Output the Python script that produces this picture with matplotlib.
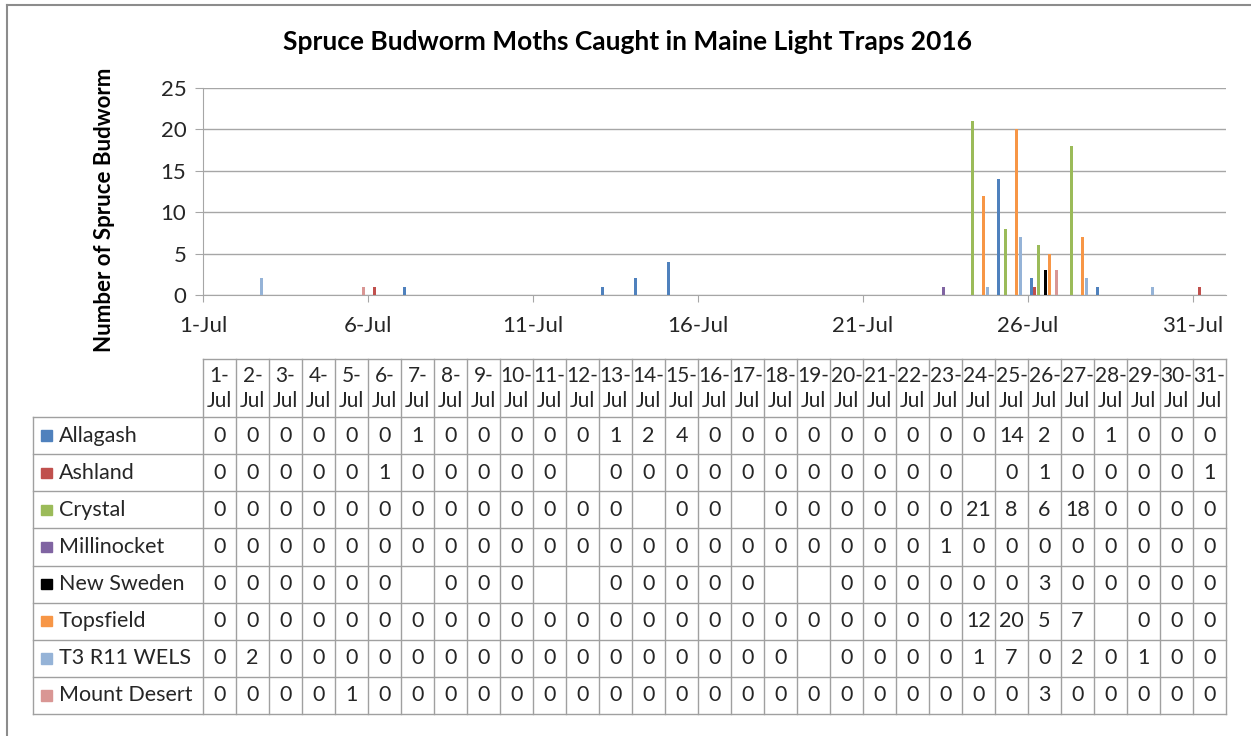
import matplotlib

matplotlib.use("Agg")
import matplotlib.pyplot as plt
from matplotlib.lines import Line2D
from matplotlib.patches import Rectangle

plt.rcParams["font.family"] = ["Lato", "DejaVu Sans"]

days = list(range(1, 32))
day_labels = [f"{d}-Jul" for d in days]
tick_days = [1, 6, 11, 16, 21, 26, 31]

N = None
allagash = [0, 0, 0, 0, 0, 0, 1, 0, 0, 0, 0, 0, 1, 2, 4, 0, 0, 0, 0, 0, 0, 0, 0, 0, 14, 2, 0, 1, 0, 0, 0]
ashland = [0, 0, 0, 0, 0, 1, 0, 0, 0, 0, 0, N, 0, 0, 0, 0, 0, 0, 0, 0, 0, 0, 0, N, 0, 1, 0, 0, 0, 0, 1]
crystal = [0, 0, 0, 0, 0, 0, 0, 0, 0, 0, 0, 0, 0, N, 0, 0, N, 0, 0, 0, 0, 0, 0, 21, 8, 6, 18, 0, 0, 0, 0]
millinocket = [0, 0, 0, 0, 0, 0, 0, 0, 0, 0, 0, 0, 0, 0, 0, 0, 0, 0, 0, 0, 0, 0, 1, 0, 0, 0, 0, 0, 0, 0, 0]
new_sweden = [0, 0, 0, 0, 0, 0, N, 0, 0, 0, N, N, 0, 0, 0, 0, 0, N, N, 0, 0, 0, 0, 0, 0, 3, 0, 0, 0, 0, 0]
topsfield = [0, 0, 0, 0, 0, 0, 0, 0, 0, 0, 0, 0, 0, 0, 0, 0, 0, 0, 0, 0, 0, 0, 0, 12, 20, 5, 7, N, 0, 0, 0]
t3_r11_wels = [0, 2, 0, 0, 0, 0, 0, 0, 0, 0, 0, 0, 0, 0, 0, 0, 0, 0, N, 0, 0, 0, 0, 1, 7, 0, 2, 0, 1, 0, 0]
mount_desert = [0, 0, 0, 0, 1, 0, 0, 0, 0, 0, 0, 0, 0, 0, 0, 0, 0, 0, 0, 0, 0, 0, 0, 0, 0, 3, 0, 0, 0, 0, 0]

series_names = ["Allagash", "Ashland", "Crystal", "Millinocket", "New Sweden",
                "Topsfield", "T3 R11 WELS", "Mount Desert"]
series_values = [allagash, ashland, crystal, millinocket, new_sweden,
                 topsfield, t3_r11_wels, mount_desert]
series_colors = ["#4F81BD", "#C0504D", "#9BBB59", "#8064A2", "#000000",
                 "#F79646", "#95B3D7", "#D99694"]

W, H = 1251, 736
GRID = "#A6A6A6"
LINE = "#A0A0A0"
TXT = "#262626"

fig = plt.figure(figsize=(W / 100, H / 100), dpi=100)

# outer chart frame (only top/left visible in the crop)
fig.add_artist(Line2D([7 / W, 7 / W], [0, 1 - 5 / H], color="#8C8C8C", lw=1.5))
fig.add_artist(Line2D([7 / W, 1], [1 - 5 / H, 1 - 5 / H], color="#8C8C8C", lw=1.5))

# ---- bar chart ----
ax = fig.add_axes([203 / W, 1 - 295 / H, 1023 / W, 207 / H])
n = len(series_names)
for i, (name, vals, col) in enumerate(zip(series_names, series_values, series_colors)):
    xs = [d + (i + 0.85) / 9 for d, v in zip(days, vals) if v]
    ys = [v for v in vals if v]
    ax.bar(xs, ys, width=0.09, color=col, label=name, zorder=3)

ax.set_xlim(1, 32)
ax.set_ylim(0, 25)
ax.set_yticks(range(0, 26, 5))
ax.set_xticks(tick_days)
ax.set_xticklabels([day_labels[d - 1] for d in tick_days])
ax.yaxis.grid(True, color=GRID, lw=1)
ax.set_axisbelow(True)
for side in ["top", "right"]:
    ax.spines[side].set_visible(False)
for side in ["left", "bottom"]:
    ax.spines[side].set_color(GRID)
ax.tick_params(axis="y", length=6, color=GRID, labelsize=16, pad=6, labelcolor=TXT)
ax.tick_params(axis="x", length=5, color=GRID, labelsize=16, pad=10, labelcolor=TXT)

fig.text(628 / W, 1 - 42 / H, "Spruce Budworm Moths Caught in Maine Light Traps 2016",
         ha="center", va="center", fontsize=19, fontweight="bold")
fig.text(105 / W, 1 - 210 / H, "Number of Spruce Budworm", rotation=90,
         ha="center", va="center", fontsize=16, fontweight="bold")

# ---- data table ----
tab = fig.add_axes([203 / W, 1 - 714 / H, 1023 / W, 355 / H])
tab.set_xlim(1, 32)
head_h = 58 / 37.1
tab.set_ylim(-n, head_h)
tab.axis("off")
left = 1 + (33 - 203) / 33.0

for k in range(n + 1):
    tab.plot([left, 32], [-k, -k], color=LINE, lw=1, clip_on=False)
tab.plot([1, 32], [head_h, head_h], color=LINE, lw=1, clip_on=False)
for d in range(1, 33):
    tab.plot([d, d], [-n, head_h], color=LINE, lw=1, clip_on=False)
tab.plot([left, left], [-n, 0], color=LINE, lw=1, clip_on=False)

for d in days:
    tab.text(d + 0.5, head_h * 0.70, f"{d}-", ha="center", va="center", fontsize=15, color=TXT)
    tab.text(d + 0.5, head_h * 0.28, "Jul", ha="center", va="center", fontsize=15, color=TXT)

for k, (name, vals, col) in enumerate(zip(series_names, series_values, series_colors)):
    yc = -k - 0.5
    tab.add_patch(Rectangle((left + 0.24, yc - 0.14), 0.33, 0.28, color=col, clip_on=False))
    tab.text(left + 0.78, yc, name, ha="left", va="center", fontsize=15.5, color=TXT)
    for d, v in zip(days, vals):
        if v is not None:
            tab.text(d + 0.5, yc, str(v), ha="center", va="center", fontsize=15.5, color=TXT)

fig.savefig("out.png", dpi=100)
